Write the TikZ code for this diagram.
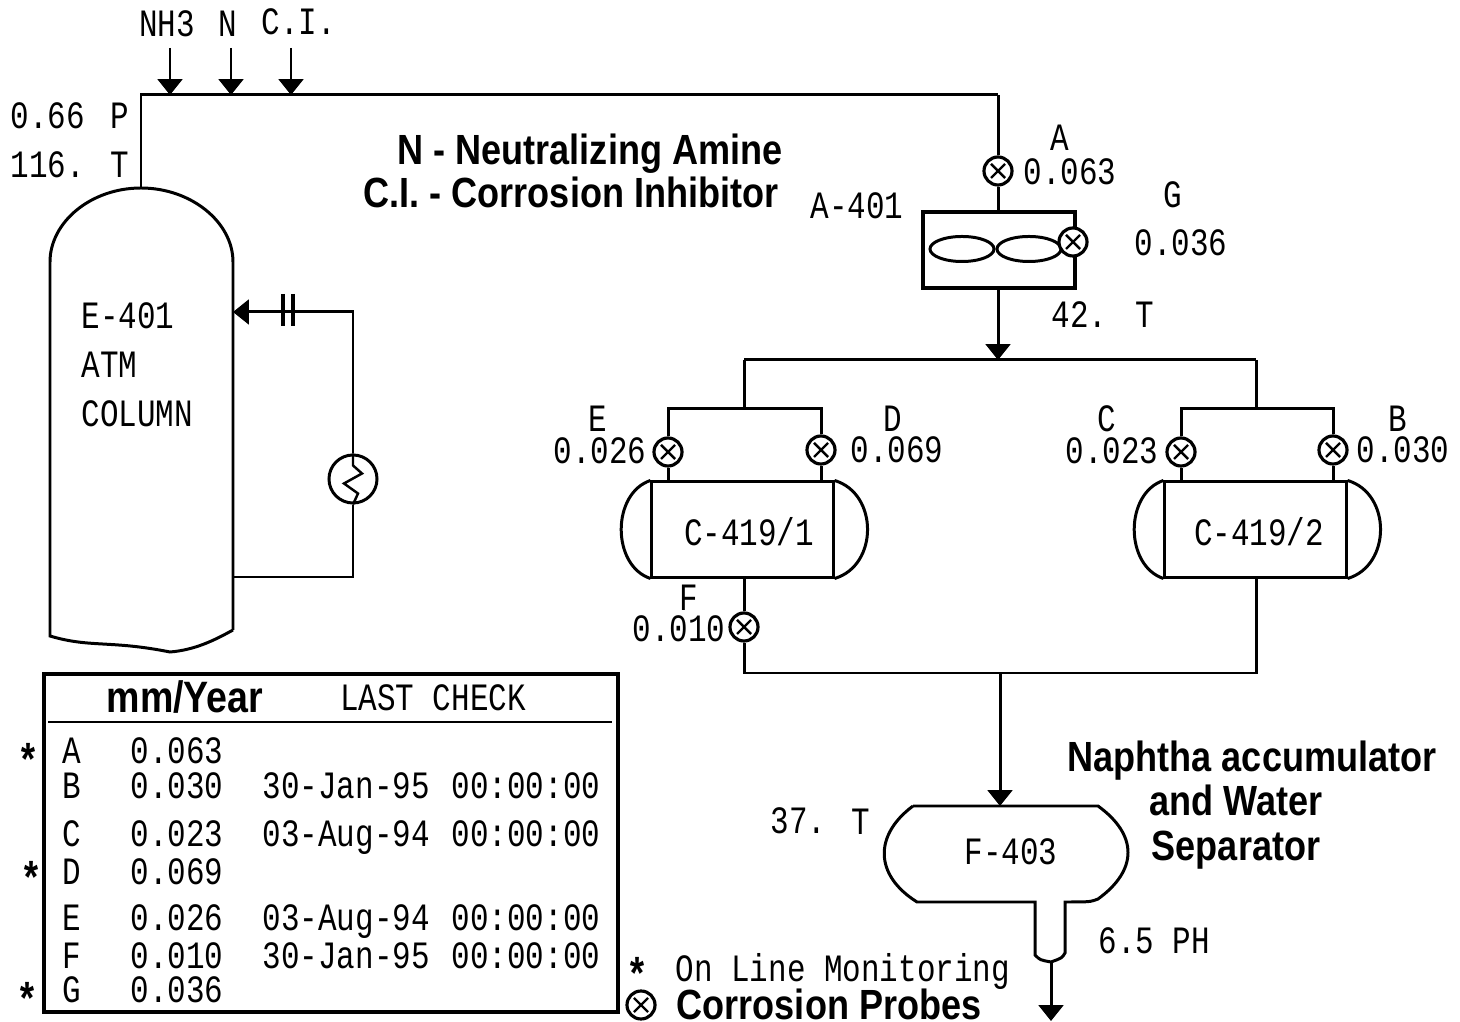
\documentclass[tikz,border=0pt]{standalone}
\usepackage{fontspec}
\usepackage{tikz}
\usetikzlibrary{arrows.meta, shapes.geometric, positioning, calc}
\newfontfamily\plantfont[FakeStretch=0.8]{Liberation Mono}
\newfontfamily\titlefont[FakeStretch=0.855]{Liberation Sans}
\tikzset{every node/.append style={align=center},
  plainline/.style={line width=0.85pt},
  flowarrow/.style={line width=0.85pt, -{Triangle[length=4.5pt,width=7pt]}},
  monotext/.style={font=\plantfont\fontsize{11}{13}\selectfont, inner sep=0pt, text height=7pt, text depth=0pt},
  monoleft/.style={monotext, anchor=west},
  boldtext/.style={font=\titlefont\bfseries\fontsize{12}{14}\selectfont, inner sep=0pt, text height=8pt, text depth=0pt},
  probe/.style={circle, draw, line width=0.9pt, fill=white, inner sep=0pt, minimum size=0.28cm,
    path picture={\draw[line width=0.7pt]
      ($(path picture bounding box.south west)!0.25!(path picture bounding box.north east)$) --
      ($(path picture bounding box.south west)!0.75!(path picture bounding box.north east)$)
      ($(path picture bounding box.north west)!0.25!(path picture bounding box.south east)$) --
      ($(path picture bounding box.north west)!0.75!(path picture bounding box.south east)$);}},
  vesselbox/.style={draw, line width=0.85pt, inner sep=0pt, minimum width=1.81cm, minimum height=0.95cm}
}

\begin{document}
\begin{tikzpicture}[x=0.01cm,y=-0.01cm]
\useasboundingbox (0,0) rectangle (1460,1022);

% ── Column E-401 ──────────────────────────────────────────────────────────────
\draw[plainline] (233,630) -- (233,262) .. controls (233,222) and (191,188) .. (141,188)
     .. controls (91,188) and (50,222) .. (50,262) -- (50,636)
     .. controls (90,648) and (110,640) .. (170,652) .. controls (195,650) and (215,640) .. (233,630);
\coordinate (colTop) at (141,188);
\coordinate (colIn) at (233,312);
\coordinate (colOut) at (233,577);
\node[monoleft] (colName) at (81,316) {E-401};
\node[monoleft] (colAtm) at (81,365) {ATM};
\node[monoleft] (colWord) at (81,414) {COLUMN};

% Overhead line and injections
\coordinate (topL) at (141,95);
\coordinate (topR) at (998,95);
\foreach \nm/\xpos/\ypos/\txt in {inNH/167/24/NH3, inN/228/24/N, inCI/299/22/C.I.}
  \node[monotext] (\nm) at (\xpos,\ypos) {\txt};
\foreach \nm/\xpos in {NH/170, N/231, CI/291} {
  \coordinate (s\nm) at (\xpos,48);
  \coordinate (e\nm) at (\xpos,95);
  \draw[flowarrow] (s\nm) -- (e\nm);
}
\draw[plainline] (colTop) -- (topL) -- (topR);

% Reflux loop
\node[circle, draw, line width=0.85pt, inner sep=0pt, minimum size=0.48cm] (reflux) at (353,479) {};
\draw[line width=0.7pt] (reflux.north) -- ++(0,12) -- ++(9,8) -- ++(-18,10) -- ++(14,10) -- (reflux.south);
\coordinate (refluxTop) at (353,312);
\coordinate (refluxBot) at (353,577);
\draw[flowarrow] (reflux.north) -- (refluxTop) -- (colIn);
\draw[plainline] (reflux.south) -- (refluxBot) -- (colOut);
\foreach \xpos in {283,293}
  \draw[line width=1.1pt] (\xpos,294) -- (\xpos,326);

% ── Air cooler A-401 ─────────────────────────────────────────────────────────
\node[draw, line width=0.95pt, inner sep=0pt, minimum width=1.52cm, minimum height=0.76cm] (cooler) at (999,250) {};
\node[ellipse, draw, line width=0.85pt, inner sep=0pt, minimum width=0.64cm, minimum height=0.25cm] (fanL) at (962,249) {};
\node[ellipse, draw, line width=0.85pt, inner sep=0pt, minimum width=0.64cm, minimum height=0.25cm] (fanR) at (1029,249) {};
\node[probe] (probeG) at (1073,242) {};
\node[probe] (probeA) at (998,171) {};
\draw[plainline] (topR) -- (probeA) -- (probeA |- cooler.north);
\coordinate (hdrMid) at (998,360);
\draw[flowarrow] (probeA |- cooler.south) -- (hdrMid);

% ── Condensers ───────────────────────────────────────────────────────────────
\coordinate (hdrL) at (744,360);
\coordinate (hdrR) at (1256,360);
\draw[plainline] (hdrL) -- (hdrR);
\node[vesselbox] (vesC1) at (742.5,529.5) {};
\node[vesselbox] (vesC2) at (1255.5,529.5) {};
\foreach \ves in {vesC1,vesC2}
  \draw[plainline] (\ves.north west) .. controls +(-39,13) and +(-39,-13) .. (\ves.south west)
                   (\ves.north east) .. controls +(44,13) and +(44,-13) .. (\ves.south east);
\foreach \hdr/\pl/\pr/\xl/\xr/\ves in {hdrL/E/D/668/821/vesC1, hdrR/C/B/1181/1333/vesC2} {
  \node[probe] (probe\pl) at (\xl,452) {};
  \node[probe] (probe\pr) at (\xr,450) {};
  \coordinate (split\pl) at (\xl,409);
  \coordinate (split\pr) at (\xr,409);
  \draw[plainline] (\hdr) -- (\hdr |- split\pl);
  \draw[plainline] (probe\pl |- \ves.north) -- (probe\pl) -- (split\pl) -- (split\pr) -- (probe\pr) -- (probe\pr |- \ves.north);
}
\node[monotext] (nameC1) at (749,533) {C-419/1};
\node[monotext] (nameC2) at (1259,533) {C-419/2};

% Rundown to accumulator
\node[probe] (probeF) at (744,627) {};
\coordinate (runL) at (744,673);
\coordinate (runR) at (1256,673);
\coordinate (runMid) at (1000,673);
\coordinate (accIn) at (1000,806);
\draw[plainline] (probeF |- vesC1.south) -- (probeF) -- (runL) -- (runR) -- (runR |- vesC2.south);
\draw[flowarrow] (runMid) -- (accIn);

% ── Accumulator F-403 ────────────────────────────────────────────────────────
\draw[plainline] (913,806) -- (1098,806) .. controls (1138,835) and (1138,870) .. (1098,899)
     .. controls (1090,902) .. (1065,902) -- (1065,953)
     .. controls (1062,958) .. (1051,962) .. controls (1040,960) .. (1035,955) -- (1035,902) -- (917,902)
     .. controls (874,875) and (874,835) .. (913,806);
\node[monotext] (nameAcc) at (1011,852) {F-403};
\coordinate (accOut) at (1051,962);
\coordinate (accEnd) at (1051,1021);
\draw[flowarrow] (accOut) -- (accEnd);

% ── Plant labels ─────────────────────────────────────────────────────────────
\foreach \nm/\xpos/\ypos/\txt in {
    lblP/120/116/P, lblT/120/165/T, lblCool/857/206/A-401, tagA/1060/138/A, tagG/1173/195/G,
    lblTb/1145/315/T, tagE/598/419/E, tagD/893/419/D, tagC/1107/419/C, tagB/1398/419/B,
    tagF/689/598/F, lblTc/861/822/T}
  \node[monotext] (\nm) at (\xpos,\ypos) {\txt};
\foreach \nm/\xpos/\ypos/\txt in {
    valP/10/116/0.66, valT/10/165/116., valA/1023/172/0.063, valG/1134/243/0.036,
    valTb/1051/315/42., valE/553/451/0.026, valD/850/450/0.069, valC/1065/451/0.023,
    valB/1356/450/0.030, valF/632/629/0.010, valTc/770/821/37., valPH/1098/941/6.5 PH}
  \node[monoleft] (\nm) at (\xpos,\ypos) {\txt};

\node[boldtext] (noteN) at (590,150) {N - Neutralizing Amine};
\node[boldtext] (noteCI) at (571,193) {C.I. - Corrosion Inhibitor};
\node[boldtext] (noteNaph) at (1252,757) {Naphtha accumulator};
\node[boldtext] (noteWater) at (1236,801) {and Water};
\node[boldtext] (noteSep) at (1236,846) {Separator};

% ── Rate table ───────────────────────────────────────────────────────────────
\node[draw, line width=1.2pt, inner sep=0pt, minimum width=5.74cm, minimum height=3.38cm] (rateBox) at (331,843) {};
\coordinate (ruleL) at (48,722);
\coordinate (ruleR) at (612,722);
\draw[plainline] (ruleL) -- (ruleR);
\node[boldtext, font=\titlefont\bfseries\fontsize{12.5}{14}\selectfont] (headRate) at (185,698) {mm/Year};
\node[monotext] (headCheck) at (433,698) {LAST CHECK};
\foreach \tag/\ypos/\val/\date/\tm in {
    A/751/0.063//,
    B/786/0.030/30-Jan-95/00:00:00,
    C/834/0.023/03-Aug-94/00:00:00,
    D/872/0.069//,
    E/918/0.026/03-Aug-94/00:00:00,
    F/956/0.010/30-Jan-95/00:00:00,
    G/990/0.036//}
{
  \node[monotext] (row\tag) at (72,\ypos) {\tag};
  \node[monoleft] (rate\tag) at (130,\ypos) {\val};
  \node[monoleft] (date\tag) at (262,\ypos) {\date};
  \node[monoleft] (time\tag) at (451,\ypos) {\tm};
}
\foreach \nm/\xpos/\ypos in {starA/28/764, starD/31/882, starG/27/1003, starKey/637/978}
  \node[monotext, font=\plantfont\bfseries\fontsize{13}{13}\selectfont] (\nm) at (\xpos,\ypos) {*};

% Legend
\node[monoleft] (keyLine) at (675,969) {On Line Monitoring};
\node[probe] (keyProbe) at (641,1005) {};
\node[boldtext, anchor=west] (keyText) at (676,1005) {Corrosion Probes};

\end{tikzpicture}
\end{document}
